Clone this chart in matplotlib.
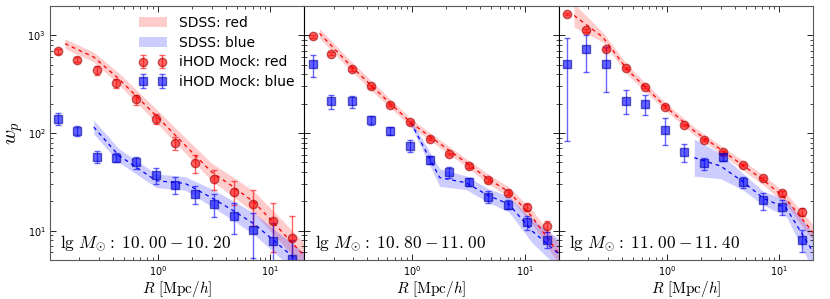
import numpy as np
import matplotlib
matplotlib.use('Agg')
import matplotlib.pyplot as plt

plt.rcParams['mathtext.fontset'] = 'cm'
plt.rcParams['xtick.direction'] = 'in'
plt.rcParams['ytick.direction'] = 'in'
plt.rcParams['xtick.top'] = True
plt.rcParams['ytick.right'] = True

# mock (iHOD) radial bins, Mpc/h
R_mock = [0.13, 0.19, 0.29, 0.43, 0.64, 0.96, 1.43, 2.13, 3.18, 4.74, 7.07, 10.5, 15.7]
# SDSS measurement bins
R_sdss = [0.15, 0.27, 0.45, 0.97, 1.75, 3.0, 4.7, 7.2, 11.5, 20.0]

panel_labels = [r'$\lg\,M_{\odot}:\ 10.\!\;00-10.\!\;20$',
                r'$\lg\,M_{\odot}:\ 10.\!\;80-11.\!\;00$',
                r'$\lg\,M_{\odot}:\ 11.\!\;00-11.\!\;40$']

# iHOD mock points
mock_red_1 = [685, 563, 437, 324, 221, 140, 78.5, 49, 34, 25.2, 18.7, 12.6, 8.5]
mock_red_err_1 = [40, 35, 45, 35, 25, 16, 12, 10, 8, 7, 7.5, 6.5, 5.6]
mock_blue_1 = [140, 106, 57.5, 56, 50, 37.3, 29.6, 23.8, 18.7, 14.3, 10.2, 7.9, 5.1]
mock_blue_err_1 = [20, 13, 8, 6, 7, 7, 6, 5, 5, 5, 5, 4, 3]

mock_red_2 = [976, 648, 448, 300, 195, 129, 87, 61, 46, 33, 24.6, 17.4, 11.2]
mock_red_err_2 = [30, 20, 12, 8, 5, 4, 3, 2, 2, 1.5, 1.5, 1.5, 1.5]
mock_blue_2 = [505, 212, 212, 136, 105, 74, 53, 40, 31.6, 22.3, 18.5, 12.2, 8.1]
mock_blue_err_2 = [130, 35, 30, 15, 10, 10, 5, 5, 3, 3, 2, 2, 1.5]

mock_red_3 = [1670, 1125, 730, 462, 295, 187, 121, 84, 63.5, 47, 34.4, 24.1, 15.5]
mock_red_err_3 = [40, 30, 20, 12, 8, 5, 3, 2, 2, 1.5, 1.5, 1.5, 1.5]
mock_blue_3 = [512, 718, 512, 215, 198, 108, 63.5, 49, 56.6, 31.5, 20.4, 17.4, 8.1]
mock_blue_err_3 = [430, 300, 250, 60, 45, 33, 13, 7, 5, 4, 4, 3, 2]

# SDSS bands: centre and half width (dex); nan = no measurement
sdss_red_1 = [822, 600, 360, 150, 75, 40, 28, 19.5, 11, 5.5]
sdss_red_hw_1 = [0.05, 0.05, 0.06, 0.07, 0.08, 0.09, 0.1, 0.11, 0.12, 0.13]
sdss_blue_1 = [np.nan, 115, 59, 32.5, 30.5, 21.8, 16, 11.7, 7.4, 4.3]
sdss_blue_hw_1 = [np.nan, 0.07, 0.07, 0.07, 0.07, 0.09, 0.1, 0.11, 0.12, 0.14]

sdss_red_2 = [1050, 518, 293, 128, 78, 50, 34, 25, 14, 5.8]
sdss_red_hw_2 = [0.05, 0.05, 0.05, 0.04, 0.04, 0.04, 0.05, 0.05, 0.07, 0.1]
sdss_blue_2 = [np.nan, np.nan, np.nan, 128, 35, 31, 23, 18.7, 10, 5.8]
sdss_blue_hw_2 = [np.nan, np.nan, np.nan, 0.03, 0.09, 0.07, 0.07, 0.08, 0.12, 0.15]

sdss_red_3 = [1600, 960, 440, 187, 105, 68, 47, 33, 21, 9.5]
sdss_red_hw_3 = [0.12, 0.05, 0.05, 0.04, 0.04, 0.04, 0.05, 0.05, 0.06, 0.08]
sdss_blue_3 = [np.nan, np.nan, np.nan, np.nan, 56, 46, 32, 21.5, 17, 6]
sdss_blue_hw_3 = [np.nan, np.nan, np.nan, np.nan, 0.19, 0.13, 0.085, 0.07, 0.085, 0.19]

panels = [
    (mock_red_1, mock_red_err_1, mock_blue_1, mock_blue_err_1,
     sdss_red_1, sdss_red_hw_1, sdss_blue_1, sdss_blue_hw_1),
    (mock_red_2, mock_red_err_2, mock_blue_2, mock_blue_err_2,
     sdss_red_2, sdss_red_hw_2, sdss_blue_2, sdss_blue_hw_2),
    (mock_red_3, mock_red_err_3, mock_blue_3, mock_blue_err_3,
     sdss_red_3, sdss_red_hw_3, sdss_blue_3, sdss_blue_hw_3),
]

fig, axes = plt.subplots(1, 3, figsize=(8.3, 2.99), dpi=100, sharey=True)
fig.subplots_adjust(left=0.060, right=0.980, top=0.980, bottom=0.130, wspace=0)

for i, ax in enumerate(axes):
    mr, mre, mb, mbe, sr, srh, sb, sbh = panels[i]
    rs = np.array(R_sdss)
    for cen, hw, col, name in [(sr, srh, 'red', 'SDSS: red'), (sb, sbh, 'blue', 'SDSS: blue')]:
        cen = np.array(cen, dtype=float)
        hw = np.array(hw, dtype=float)
        ok = ~np.isnan(cen)
        ax.fill_between(rs[ok], cen[ok] * 10 ** (-hw[ok]), cen[ok] * 10 ** hw[ok],
                        color=col, alpha=0.2, lw=0, label=name)
        ax.plot(rs[ok], cen[ok], '--', color=col, lw=0.9, dashes=(3, 3))
    ax.errorbar(R_mock, mr, yerr=mre, fmt='o', color='red', mec='#a00000', ms=6,
                alpha=0.6, capsize=2, elinewidth=1, label='iHOD Mock: red')
    ax.errorbar(R_mock, mb, yerr=mbe, fmt='s', color='blue', mec='#0000a0', ms=6,
                alpha=0.6, capsize=2, elinewidth=1, label='iHOD Mock: blue')

    ax.set_xscale('log')
    ax.set_yscale('log')
    ax.set_xlim(0.11, 20)
    ax.set_ylim(5, 2000)
    ax.set_xlabel(r'$R\ [\mathrm{Mpc}/h]$', fontsize=11, labelpad=1)
    ax.tick_params(which='major', length=4, width=0.6, labelsize=7, pad=3)
    ax.tick_params(which='minor', length=2, width=0.5)
    for sp in ax.spines.values():
        sp.set_color('0.35')
    ax.text(0.04, 0.05, panel_labels[i], transform=ax.transAxes, fontsize=12.5,
            ha='left', va='baseline')
    if i > 0:
        ax.tick_params(labelleft=False)
        ax.spines['left'].set_color('black')

axes[0].set_ylabel(r'$w_p$', fontsize=15, labelpad=2)
axes[0].legend(loc='upper right', frameon=False, numpoints=2, fontsize=10,
               handlelength=2.0, handletextpad=0.9, borderaxespad=0.3,
               labelspacing=0.42)

fig.savefig('out.png', dpi=100)
